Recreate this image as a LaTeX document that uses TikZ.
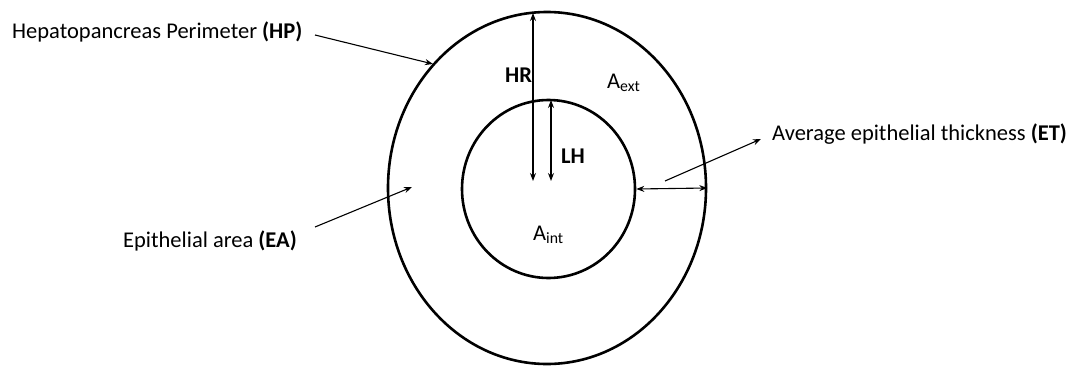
\documentclass[tikz,border=0pt]{standalone}
\usepackage{fontspec}
\setmainfont{Carlito}
\usetikzlibrary{arrows.meta,shapes.geometric}
\begin{document}
\begin{tikzpicture}[x=1pt,y=-1pt,
  ring/.style={draw,line width=2.6pt,ellipse,inner sep=0pt},
  lbl/.style={inner sep=0pt,anchor=base west,font=\fontsize{22.5}{27}\selectfont},
  ptr/.style={line width=1.1pt,-{Stealth[length=8pt,width=6pt]}},
  dim/.style={line width=1.1pt,{Stealth[length=8pt,width=6pt]}-{Stealth[length=8pt,width=6pt]}}]
\useasboundingbox (0,0) rectangle (1074,367);
\node[ring,minimum width=318pt,minimum height=352pt] (outer) at (547,188) {};
\node[ring,minimum width=173pt,minimum height=178pt] (inner) at (548.5,189) {};
% labels
\node[lbl] (hp) at (12,38) {Hepatopancreas Perimeter \textbf{(HP)}};
\node[lbl] (ea) at (123,247.5) {Epithelial area \textbf{(EA)}};
\node[lbl] (et) at (772,140) {Average epithelial thickness \textbf{(ET)}};
\node[lbl] (hr) at (505,82) {\textbf{HR}};
\node[lbl] (lh) at (561,163) {\textbf{LH}};
\node[lbl] (aext) at (607,88) {A\textsubscript{ext}};
\node[lbl] (aint) at (533,240) {A\textsubscript{int}};
% coordinates
\coordinate (hrT) at (533,13);
\coordinate (hrB) at (533,181);
\coordinate (lhT) at (551,100);
\coordinate (lhB) at (551,181);
\coordinate (hpS) at (315,35);
\coordinate (hpE) at (433,64);
\coordinate (eaS) at (315,227);
\coordinate (eaE) at (412,187);
\coordinate (etS) at (665,181);
\coordinate (etE) at (761,139);
% connectors
\draw[dim] (hrB) -- (hrT);
\draw[dim] (lhB) -- (lhT);
\draw[dim] (inner.east) -- (outer.east);
\draw[ptr] (hpS) -- (hpE);
\draw[ptr] (eaS) -- (eaE);
\draw[ptr] (etS) -- (etE);
\end{tikzpicture}
\end{document}
